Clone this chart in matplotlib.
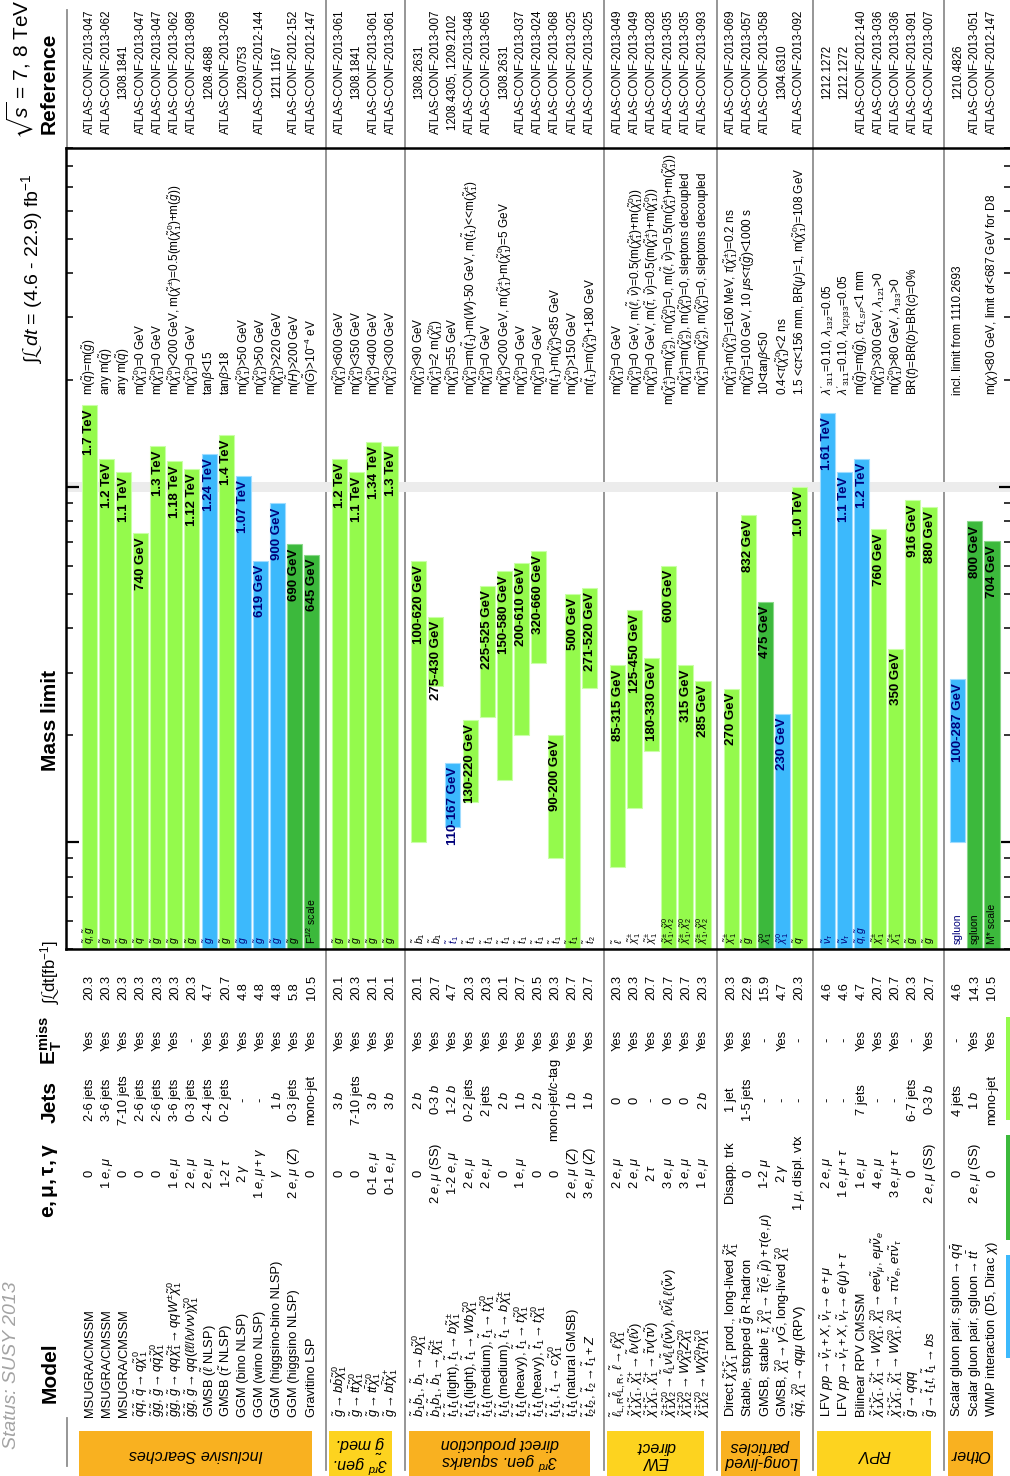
"""
SUSY mass limit summary (rotated layout)
"""

import matplotlib
matplotlib.use('Agg')
import matplotlib.pyplot as plt
import matplotlib.transforms as mtransforms
from matplotlib.lines import Line2D
from matplotlib.patches import Rectangle

# fonts
plt.rcParams['font.family'] = ['Liberation Sans', 'DejaVu Sans']
plt.rcParams['mathtext.fontset'] = 'custom'
plt.rcParams['mathtext.rm'] = 'Liberation Sans'
plt.rcParams['mathtext.it'] = 'Liberation Sans:italic'
plt.rcParams['mathtext.bf'] = 'Liberation Sans:bold'
plt.rcParams['mathtext.fallback'] = 'stixsans'

# ---------------- data ----------------
group_names = ['Inclusive Searches', '3$^{rd}$ gen.\n$\\tilde{g}$ med.',
               '3$^{rd}$ gen. squarks\ndirect production', 'EW\ndirect',
               'Long-lived\nparticles', 'RPV', 'Other']
group_sizes = [14, 4, 11, 6, 5, 7, 3]

models = [
    'MSUGRA/CMSSM', 'MSUGRA/CMSSM', 'MSUGRA/CMSSM',
    r'$\tilde{q}\tilde{q}$, $\tilde{q}\rightarrow q\tilde{\chi}^{0}_{1}$',
    r'$\tilde{g}\tilde{g}$, $\tilde{g}\rightarrow q\bar{q}\tilde{\chi}^{0}_{1}$',
    r'$\tilde{g}\tilde{g}$, $\tilde{g}\rightarrow qq\tilde{\chi}^{\pm}_{1}\rightarrow qqW^{\pm}\tilde{\chi}^{0}_{1}$',
    r'$\tilde{g}\tilde{g}$, $\tilde{g}\rightarrow qq(\ell\ell/\ell\nu/\nu\nu)\tilde{\chi}^{0}_{1}$',
    r'GMSB ($\tilde{\ell}$ NLSP)', r'GMSB ($\tilde{\tau}$ NLSP)',
    'GGM (bino NLSP)', 'GGM (wino NLSP)', 'GGM (higgsino-bino NLSP)',
    'GGM (higgsino NLSP)', 'Gravitino LSP',
    r'$\tilde{g}\rightarrow b\bar{b}\tilde{\chi}^{0}_{1}$',
    r'$\tilde{g}\rightarrow t\bar{t}\tilde{\chi}^{0}_{1}$',
    r'$\tilde{g}\rightarrow t\bar{t}\tilde{\chi}^{0}_{1}$',
    r'$\tilde{g}\rightarrow b\bar{t}\tilde{\chi}^{+}_{1}$',
    r'$\tilde{b}_{1}\tilde{b}_{1}$, $\tilde{b}_{1}\rightarrow b\tilde{\chi}^{0}_{1}$',
    r'$\tilde{b}_{1}\tilde{b}_{1}$, $\tilde{b}_{1}\rightarrow t\tilde{\chi}^{\pm}_{1}$',
    r'$\tilde{t}_{1}\tilde{t}_{1}$(light), $\tilde{t}_{1}\rightarrow b\tilde{\chi}^{\pm}_{1}$',
    r'$\tilde{t}_{1}\tilde{t}_{1}$(light), $\tilde{t}_{1}\rightarrow Wb\tilde{\chi}^{0}_{1}$',
    r'$\tilde{t}_{1}\tilde{t}_{1}$(medium), $\tilde{t}_{1}\rightarrow t\tilde{\chi}^{0}_{1}$',
    r'$\tilde{t}_{1}\tilde{t}_{1}$(medium), $\tilde{t}_{1}\rightarrow b\tilde{\chi}^{\pm}_{1}$',
    r'$\tilde{t}_{1}\tilde{t}_{1}$(heavy), $\tilde{t}_{1}\rightarrow t\tilde{\chi}^{0}_{1}$',
    r'$\tilde{t}_{1}\tilde{t}_{1}$(heavy), $\tilde{t}_{1}\rightarrow t\tilde{\chi}^{0}_{1}$',
    r'$\tilde{t}_{1}\tilde{t}_{1}$, $\tilde{t}_{1}\rightarrow c\tilde{\chi}^{0}_{1}$',
    r'$\tilde{t}_{1}\tilde{t}_{1}$(natural GMSB)',
    r'$\tilde{t}_{2}\tilde{t}_{2}$, $\tilde{t}_{2}\rightarrow\tilde{t}_{1}+Z$',
    r'$\tilde{\ell}_{\mathrm{L,R}}\tilde{\ell}_{\mathrm{L,R}}$, $\tilde{\ell}\rightarrow\ell\tilde{\chi}^{0}_{1}$',
    r'$\tilde{\chi}^{+}_{1}\tilde{\chi}^{-}_{1}$, $\tilde{\chi}^{+}_{1}\rightarrow\tilde{\ell}\nu(\ell\tilde{\nu})$',
    r'$\tilde{\chi}^{+}_{1}\tilde{\chi}^{-}_{1}$, $\tilde{\chi}^{+}_{1}\rightarrow\tilde{\tau}\nu(\tau\tilde{\nu})$',
    r'$\tilde{\chi}^{\pm}_{1}\tilde{\chi}^{0}_{2}\rightarrow\tilde{\ell}_{\mathrm{L}}\nu\tilde{\ell}_{\mathrm{L}}\ell(\tilde{\nu}\nu)$, $\ell\tilde{\nu}\tilde{\ell}_{\mathrm{L}}\ell(\tilde{\nu}\nu)$',
    r'$\tilde{\chi}^{\pm}_{1}\tilde{\chi}^{0}_{2}\rightarrow W\tilde{\chi}^{0}_{1}Z\tilde{\chi}^{0}_{1}$',
    r'$\tilde{\chi}^{\pm}_{1}\tilde{\chi}^{0}_{2}\rightarrow W\tilde{\chi}^{0}_{1}h\tilde{\chi}^{0}_{1}$',
    r'Direct $\tilde{\chi}^{+}_{1}\tilde{\chi}^{-}_{1}$ prod., long-lived $\tilde{\chi}^{\pm}_{1}$',
    r'Stable, stopped $\tilde{g}$ R-hadron',
    r'GMSB, stable $\tilde{\tau}$, $\tilde{\chi}^{0}_{1}\rightarrow\tilde{\tau}(\tilde{e},\tilde{\mu})+\tau(e,\mu)$',
    r'GMSB, $\tilde{\chi}^{0}_{1}\rightarrow\gamma\tilde{G}$, long-lived $\tilde{\chi}^{0}_{1}$',
    r'$\tilde{q}\tilde{q}$, $\tilde{\chi}^{0}_{1}\rightarrow qq\mu$ (RPV)',
    r'LFV $pp\rightarrow\tilde{\nu}_{\tau}+X$, $\tilde{\nu}_{\tau}\rightarrow e+\mu$',
    r'LFV $pp\rightarrow\tilde{\nu}_{\tau}+X$, $\tilde{\nu}_{\tau}\rightarrow e(\mu)+\tau$',
    'Bilinear RPV CMSSM',
    r'$\tilde{\chi}^{+}_{1}\tilde{\chi}^{-}_{1}$, $\tilde{\chi}^{+}_{1}\rightarrow W\tilde{\chi}^{0}_{1}$, $\tilde{\chi}^{0}_{1}\rightarrow ee\tilde{\nu}_{\mu}$, $e\mu\tilde{\nu}_{e}$',
    r'$\tilde{\chi}^{+}_{1}\tilde{\chi}^{-}_{1}$, $\tilde{\chi}^{+}_{1}\rightarrow W\tilde{\chi}^{0}_{1}$, $\tilde{\chi}^{0}_{1}\rightarrow\tau\tau\tilde{\nu}_{e}$, $e\tau\tilde{\nu}_{\tau}$',
    r'$\tilde{g}\rightarrow qqq$',
    r'$\tilde{g}\rightarrow\tilde{t}_{1}t$, $\tilde{t}_{1}\rightarrow bs$',
    r'Scalar gluon pair, sgluon$\rightarrow q\bar{q}$',
    r'Scalar gluon pair, sgluon$\rightarrow t\bar{t}$',
    r'WIMP interaction (D5, Dirac $\chi$)',
]

EM = r'$e,\mu$'
leptons = [
    '0', '1 ' + EM, '0', '0', '0', '1 ' + EM, '2 ' + EM, '2 ' + EM, r'1-2 $\tau$',
    r'2 $\gamma$', r'1 $e,\mu+\gamma$', r'$\gamma$', '2 ' + EM + ' ($Z$)', '0',
    '0', '0', '0-1 ' + EM, '0-1 ' + EM,
    '0', '2 ' + EM + ' (SS)', '1-2 ' + EM, '2 ' + EM, '2 ' + EM, '0', '1 ' + EM,
    '0', '0', '2 ' + EM + ' ($Z$)', '3 ' + EM + ' ($Z$)',
    '2 ' + EM, '2 ' + EM, r'2 $\tau$', '3 ' + EM, '3 ' + EM, '1 ' + EM,
    'Disapp. trk', '0', r'1-2 $\mu$', r'2 $\gamma$', r'1 $\mu$, displ. vtx',
    '2 ' + EM, r'1 $e,\mu+\tau$', '1 ' + EM, '4 ' + EM, r'3 $e,\mu+\tau$', '0',
    '2 ' + EM + ' (SS)',
    '0', '2 ' + EM + ' (SS)', '0',
]

jets = [
    '2-6 jets', '3-6 jets', '7-10 jets', '2-6 jets', '2-6 jets', '3-6 jets',
    '0-3 jets', '2-4 jets', '0-2 jets', '-', '-', '1 $b$', '0-3 jets', 'mono-jet',
    '3 $b$', '7-10 jets', '3 $b$', '3 $b$',
    '2 $b$', '0-3 $b$', '1-2 $b$', '0-2 jets', '2 jets', '2 $b$', '1 $b$', '2 $b$',
    'mono-jet/$c$-tag', '1 $b$', '1 $b$',
    '0', '0', '-', '0', '0', '2 $b$',
    '1 jet', '1-5 jets', '-', '-', '-',
    '-', '-', '7 jets', '-', '-', '6-7 jets', '0-3 $b$',
    '4 jets', '1 $b$', 'mono-jet',
]

etmiss = (['Yes'] * 6 + ['-'] + ['Yes'] * 7 + ['Yes'] * 4 + ['Yes'] * 11 + ['Yes'] * 6
          + ['Yes', 'Yes', '-', 'Yes', '-']
          + ['-', '-', 'Yes', 'Yes', 'Yes', '-', 'Yes']
          + ['-', 'Yes', 'Yes'])

lumi = [
    '20.3', '20.3', '20.3', '20.3', '20.3', '20.3', '20.3', '4.7', '20.7', '4.8',
    '4.8', '4.8', '5.8', '10.5',
    '20.1', '20.3', '20.1', '20.1',
    '20.1', '20.7', '4.7', '20.3', '20.3', '20.1', '20.7', '20.5', '20.3', '20.7', '20.7',
    '20.3', '20.3', '20.7', '20.7', '20.7', '20.3',
    '20.3', '22.9', '15.9', '4.7', '20.3',
    '4.6', '4.6', '4.7', '20.7', '20.7', '20.3', '20.7',
    '4.6', '14.3', '10.5',
]

G, Q = r'$\tilde{g}$', r'$\tilde{q}$'
T1, C1 = r'$\tilde{t}_{1}$', r'$\tilde{\chi}^{\pm}_{1}$'
N1, C1N2 = r'$\tilde{\chi}^{0}_{1}$', r'$\tilde{\chi}^{\pm}_{1},\tilde{\chi}^{0}_{2}$'
particles = (
    [r'$\tilde{q},\tilde{g}$', G, G, Q] + [G] * 9 + ['F$^{1/2}$ scale']
    + [G] * 4
    + [r'$\tilde{b}_{1}$', r'$\tilde{b}_{1}$'] + [T1] * 8 + [r'$\tilde{t}_{2}$']
    + [r'$\tilde{\ell}$', C1, C1, C1N2, C1N2, C1N2]
    + [C1, G, N1, N1, Q]
    + [r'$\tilde{\nu}_{\tau}$', r'$\tilde{\nu}_{\tau}$', r'$\tilde{q},\tilde{g}$', C1, C1, G, G]
    + ['sgluon', 'sgluon', 'M* scale']
)

limits = [
    '1.7 TeV', '1.2 TeV', '1.1 TeV', '740 GeV', '1.3 TeV', '1.18 TeV', '1.12 TeV',
    '1.24 TeV', '1.4 TeV', '1.07 TeV', '619 GeV', '900 GeV', '690 GeV', '645 GeV',
    '1.2 TeV', '1.1 TeV', '1.34 TeV', '1.3 TeV',
    '100-620 GeV', '275-430 GeV', '110-167 GeV', '130-220 GeV', '225-525 GeV',
    '150-580 GeV', '200-610 GeV', '320-660 GeV', '90-200 GeV', '500 GeV', '271-520 GeV',
    '85-315 GeV', '125-450 GeV', '180-330 GeV', '600 GeV', '315 GeV', '285 GeV',
    '270 GeV', '832 GeV', '475 GeV', '230 GeV', '1.0 TeV',
    '1.61 TeV', '1.1 TeV', '1.2 TeV', '760 GeV', '350 GeV', '916 GeV', '880 GeV',
    '100-287 GeV', '800 GeV', '704 GeV',
]

# data set of each limit: 'full' = 8 TeV full 2012, 'part' = 8 TeV partial 2012, '7' = 7 TeV 2011
datasets = (
    ['full'] * 7 + ['7', 'full', '7', '7', '7', 'part', 'part']
    + ['full'] * 4
    + ['full', 'full', '7'] + ['full'] * 8
    + ['full'] * 6
    + ['full', 'full', 'part', '7', 'full']
    + ['7', '7', '7', 'full', 'full', 'full', 'full']
    + ['7', 'part', 'part']
)

M0 = r'm($\tilde{\chi}^{0}_{1}$)'
comments = [
    r'm($\tilde{q}$)=m($\tilde{g}$)', r'any m($\tilde{q}$)', r'any m($\tilde{q}$)',
    M0 + '=0 GeV', M0 + '=0 GeV',
    M0 + r'<200 GeV, m($\tilde{\chi}^{\pm}$)=0.5(m($\tilde{\chi}^{0}_{1}$)+m($\tilde{g}$))',
    M0 + '=0 GeV', r'tan$\beta$<15', r'tan$\beta$>18', M0 + '>50 GeV', M0 + '>50 GeV',
    M0 + '>220 GeV', r'm($\tilde{H}$)>200 GeV', r'm($\tilde{G}$)>10$^{-4}$ eV',
    M0 + '<600 GeV', M0 + '<350 GeV', M0 + '<400 GeV', M0 + '<300 GeV',
    M0 + '<90 GeV', r'm($\tilde{\chi}^{\pm}_{1}$)=2 m($\tilde{\chi}^{0}_{1}$)', M0 + '=55 GeV',
    M0 + r'=m($\tilde{t}_{1}$)-m($W$)-50 GeV, m($\tilde{t}_{1}$)<<m($\tilde{\chi}^{\pm}_{1}$)',
    M0 + '=0 GeV',
    M0 + r'<200 GeV, m($\tilde{\chi}^{\pm}_{1}$)-m($\tilde{\chi}^{0}_{1}$)=5 GeV',
    M0 + '=0 GeV', M0 + '=0 GeV', r'm($\tilde{t}_{1}$)-m($\tilde{\chi}^{0}_{1}$)<85 GeV',
    M0 + '>150 GeV', r'm($\tilde{t}_{1}$)=m($\tilde{\chi}^{0}_{1}$)+180 GeV',
    M0 + '=0 GeV',
    M0 + r'=0 GeV, m($\tilde{\ell}$, $\tilde{\nu}$)=0.5(m($\tilde{\chi}^{\pm}_{1}$)+m($\tilde{\chi}^{0}_{1}$))',
    M0 + r'=0 GeV, m($\tilde{\tau}$, $\tilde{\nu}$)=0.5(m($\tilde{\chi}^{\pm}_{1}$)+m($\tilde{\chi}^{0}_{1}$))',
    r'm($\tilde{\chi}^{\pm}_{1}$)=m($\tilde{\chi}^{0}_{2}$), m($\tilde{\chi}^{0}_{1}$)=0, m($\tilde{\ell}$, $\tilde{\nu}$)=0.5(m($\tilde{\chi}^{\pm}_{1}$)+m($\tilde{\chi}^{0}_{1}$))',
    r'm($\tilde{\chi}^{\pm}_{1}$)=m($\tilde{\chi}^{0}_{2}$), m($\tilde{\chi}^{0}_{1}$)=0, sleptons decoupled',
    r'm($\tilde{\chi}^{\pm}_{1}$)=m($\tilde{\chi}^{0}_{2}$), m($\tilde{\chi}^{0}_{1}$)=0, sleptons decoupled',
    r'm($\tilde{\chi}^{\pm}_{1}$)-m($\tilde{\chi}^{0}_{1}$)=160 MeV, $\tau$($\tilde{\chi}^{\pm}_{1}$)=0.2 ns',
    M0 + r'=100 GeV, 10 $\mu$s<$\tau$($\tilde{g}$)<1000 s',
    r'10<tan$\beta$<50', r'0.4<$\tau$($\tilde{\chi}^{0}_{1}$)<2 ns',
    r'1.5 <c$\tau$<156 mm, BR($\mu$)=1, m($\tilde{\chi}^{0}_{1}$)=108 GeV',
    r"$\lambda'_{311}$=0.10, $\lambda_{132}$=0.05",
    r"$\lambda'_{311}$=0.10, $\lambda_{1(2)33}$=0.05",
    r'm($\tilde{q}$)=m($\tilde{g}$), c$\tau_{LSP}$<1 mm',
    M0 + r'>300 GeV, $\lambda_{121}$>0', M0 + r'>80 GeV, $\lambda_{133}$>0',
    r'BR($t$)=BR($b$)=BR($c$)=0%', '',
    'incl. limit from 1110.2693', '', r'm($\chi$)<80 GeV, limit of<687 GeV for D8',
]

refs = [
    'ATLAS-CONF-2013-047', 'ATLAS-CONF-2013-062', '1308.1841', 'ATLAS-CONF-2013-047',
    'ATLAS-CONF-2013-047', 'ATLAS-CONF-2013-062', 'ATLAS-CONF-2013-089', '1208.4688',
    'ATLAS-CONF-2013-026', '1209.0753', 'ATLAS-CONF-2012-144', '1211.1167',
    'ATLAS-CONF-2012-152', 'ATLAS-CONF-2012-147',
    'ATLAS-CONF-2013-061', '1308.1841', 'ATLAS-CONF-2013-061', 'ATLAS-CONF-2013-061',
    '1308.2631', 'ATLAS-CONF-2013-007', '1208.4305, 1209.2102', 'ATLAS-CONF-2013-048',
    'ATLAS-CONF-2013-065', '1308.2631', 'ATLAS-CONF-2013-037', 'ATLAS-CONF-2013-024',
    'ATLAS-CONF-2013-068', 'ATLAS-CONF-2013-025', 'ATLAS-CONF-2013-025',
    'ATLAS-CONF-2013-049', 'ATLAS-CONF-2013-049', 'ATLAS-CONF-2013-028',
    'ATLAS-CONF-2013-035', 'ATLAS-CONF-2013-035', 'ATLAS-CONF-2013-093',
    'ATLAS-CONF-2013-069', 'ATLAS-CONF-2013-057', 'ATLAS-CONF-2013-058', '1304.6310',
    'ATLAS-CONF-2013-092',
    '1212.1272', '1212.1272', 'ATLAS-CONF-2012-140', 'ATLAS-CONF-2013-036',
    'ATLAS-CONF-2013-036', 'ATLAS-CONF-2013-091', 'ATLAS-CONF-2013-007',
    '1210.4826', 'ATLAS-CONF-2013-051', 'ATLAS-CONF-2012-147',
]

# ---------------- style ----------------
BAR_COLORS = {'full': '#94fa4c', 'part': '#3cb93c', '7': '#3cb9fc'}
EDGE_COLORS = {'full': '#c9ffa6', 'part': '#8ad88a', '7': '#9fdcff'}
TEXT_COLORS = {'full': 'black', 'part': 'black', '7': '#00007a'}
BOX_COLORS = ['#f9b120', '#fdd31f'] * 4
SEP_GREY = '#8e8e8e'

W, H = 1010, 1476
ROW0, PITCH, GAP = 89.5, 17.08, 0.64   # first row (px), row pitch (px), extra gap per group (rows)
AX_L, AX_R, AX_T, AX_B = 66, 1011, 148, 949
YMIN, YMAX = 50, 9000


def fy(py):
    return 1 - py / H


def parse_limit(s):
    num, unit = s.split()
    scale = 1000.0 if unit == 'TeV' else 1.0
    if '-' in num:
        lo, hi = num.split('-')
        return float(lo) * scale, float(hi) * scale
    return None, float(num) * scale


group_of = []
for g, n in enumerate(group_sizes):
    group_of += [g] * n
xpos = [i + GAP * g for i, g in enumerate(group_of)]
first_idx = [sum(group_sizes[:g]) for g in range(len(group_sizes))]
last_idx = [first_idx[g] + group_sizes[g] - 1 for g in range(len(group_sizes))]

fig = plt.figure(figsize=(W / 100, H / 100), dpi=100)
ax = fig.add_axes([AX_L / W, fy(AX_B), (AX_R - AX_L) / W, (AX_B - AX_T) / H])
ax.patch.set_alpha(0)
ax.set_xlim((AX_L - ROW0) / PITCH, (AX_R - ROW0) / PITCH)
ax.set_yscale('log')
ax.set_ylim(YMIN, YMAX)
ax.tick_params(axis='x', which='both', bottom=False, top=False, labelbottom=False)
ax.tick_params(axis='y', which='both', direction='in', left=True, right=True,
               labelleft=False, labelright=False)
ax.tick_params(axis='y', which='major', length=9, width=1.6)
ax.tick_params(axis='y', which='minor', length=5, width=1.1)
for side in ['left', 'top', 'bottom', 'right']:
    ax.spines[side].set_linewidth(1.8)

# light band at 1 TeV
ax.axhspan(970, 1030, color='#ececec', lw=0, zorder=0)

trans = mtransforms.blended_transform_factory(ax.transData, fig.transFigure)
bar_top = mtransforms.offset_copy(ax.transData, fig=fig, y=-4, units='dots')

# bars and their labels
for k, lim in enumerate(limits):
    lo, hi = parse_limit(lim)
    base = lo if lo is not None else YMIN
    ds = datasets[k]
    ax.bar(xpos[k], hi - base, bottom=base, width=0.88, color=BAR_COLORS[ds],
           edgecolor=EDGE_COLORS[ds], linewidth=0.8, zorder=2)
    ax.text(xpos[k], hi, lim, transform=bar_top, rotation=90, ha='center', va='top',
            fontsize=9.5, fontweight='bold', color=TEXT_COLORS[ds], zorder=3)
    ax.text(xpos[k], fy(944), particles[k], transform=trans, rotation=90, ha='center',
            va='bottom', fontsize=7.5, color=TEXT_COLORS[ds], zorder=3)

# table columns below the plot
for k in range(len(models)):
    x = xpos[k]
    ax.text(x, fy(1417), models[k], transform=trans, rotation=90, ha='center', va='bottom',
            fontsize=9.3)
    ax.text(x, fy(1173), leptons[k], transform=trans, rotation=90, ha='center', va='center',
            fontsize=9.3)
    ax.text(x, fy(1100), jets[k], transform=trans, rotation=90, ha='center', va='center',
            fontsize=9.3)
    ax.text(x, fy(1040), etmiss[k], transform=trans, rotation=90, ha='center', va='center',
            fontsize=9.3)
    ax.text(x, fy(1000), lumi[k], transform=trans, rotation=90, ha='center', va='bottom',
            fontsize=9.3)
    ax.text(x, fy(72), refs[k], transform=trans, rotation=90, ha='center', va='center',
            fontsize=8.3)

# comments inside the plot, pushed down when too long
fig.canvas.draw()
renderer = fig.canvas.get_renderer()
for k, c in enumerate(comments):
    if not c:
        continue
    t = ax.text(xpos[k], fy(395), c, transform=trans, rotation=90, ha='center',
                va='bottom', fontsize=8.5)
    bb = t.get_window_extent(renderer)
    over = bb.y1 - (H - 153)
    if over > 0:
        t.set_position((xpos[k], fy(395 + over)))

# group separators, header rule and category boxes
for g in range(len(group_sizes) - 1):
    u = 0.5 * (xpos[last_idx[g]] + xpos[first_idx[g + 1]])
    fig.add_artist(Line2D([u, u], [fy(0), fy(1470)], transform=trans, color=SEP_GREY,
                          lw=1.3, zorder=-1))
u_head = (67 - ROW0) / PITCH
fig.add_artist(Line2D([u_head, u_head], [fy(10), fy(AX_T)], transform=trans,
                      color=SEP_GREY, lw=1.3, zorder=-1))
fig.add_artist(Line2D([u_head, u_head], [fy(1418), fy(1466)], transform=trans,
                      color=SEP_GREY, lw=1.3, zorder=-1))

for g, name in enumerate(group_names):
    x0 = xpos[first_idx[g]] - 0.6
    x1 = xpos[last_idx[g]] + 0.05
    fig.add_artist(Rectangle((x0, fy(1476)), x1 - x0, 45 / H, transform=trans,
                             facecolor=BOX_COLORS[g], edgecolor='none', zorder=1))
    fig.text(0.5 * (x0 + x1), fy(1454), name, transform=trans, rotation=180,
             ha='center', va='center', fontsize=11.5, style='italic', linespacing=0.95)

# legend colour stubs at the right edge
for (y0, y1), ds in zip([(1017, 1120), (1135, 1240), (1255, 1358)], ['full', 'part', '7']):
    fig.add_artist(Rectangle((1006 / W, fy(y1)), 4 / W, (y1 - y0) / H,
                             transform=fig.transFigure, facecolor=BAR_COLORS[ds],
                             edgecolor='none'))

# headers
fig.text(12 / W, fy(1365), 'Status: SUSY 2013', rotation=90, ha='center', va='center',
         fontsize=14, style='italic', color='#a3a3a3')
head = dict(rotation=90, ha='center', va='center', fontsize=15, fontweight='bold')
fig.text(50 / W, fy(1373), 'Model', **head)
fig.text(50 / W, fy(1180), r'$\mathbf{e,\mu,\tau,\gamma}$', **head)
fig.text(50 / W, fy(1102), 'Jets', **head)
fig.text(50 / W, fy(1041), r'$\mathbf{E_{T}^{miss}}$', **head)
fig.text(50 / W, fy(972), r'$\int\mathcal{L}$dt[fb$^{-1}$]', rotation=90, ha='center',
         va='center', fontsize=12)
fig.text(50 / W, fy(720), 'Mass limit', **head)
fig.text(49 / W, fy(83), 'Reference', **head)
fig.text(20 / W, fy(69), r'$\sqrt{s}$ = 7, 8 TeV', rotation=90, ha='center', va='center',
         fontsize=15)
fig.text(32 / W, fy(268), r'$\int\mathcal{L}\,dt$ = (4.6 - 22.9) fb$^{-1}$', rotation=90,
         ha='center', va='center', fontsize=14)

fig.savefig('out.png', dpi=100)
